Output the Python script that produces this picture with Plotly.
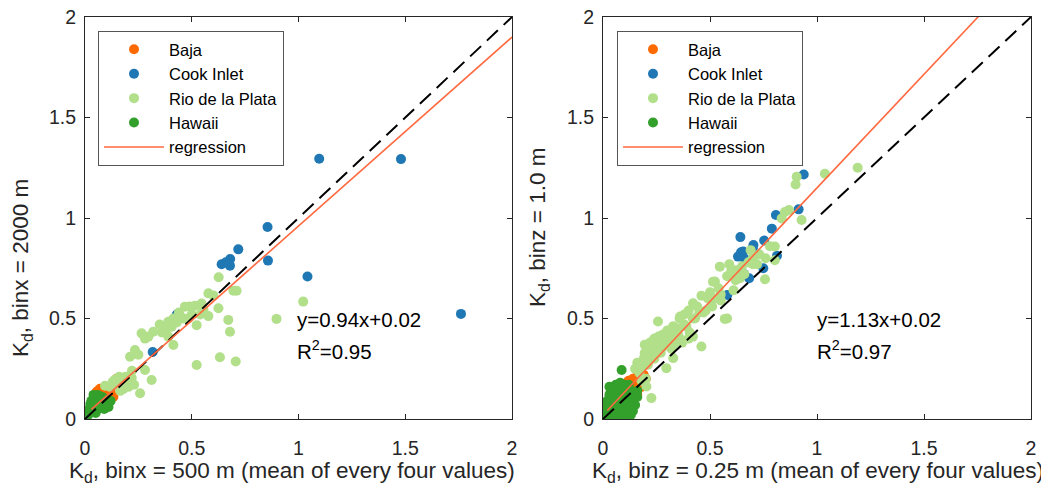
import plotly.graph_objects as go

# ---------------- Left panel: binx = 500 m (x) vs binx = 2000 m (y) ----------------
baja_x_L = [0.148, 0.135, 0.062, 0.047, 0.133, 0.070, 0.100, 0.120, 0.040, 0.085, 0.145, 0.055]
baja_y_L = [0.200, 0.170, 0.140, 0.123, 0.111, 0.150, 0.130, 0.140, 0.100, 0.120, 0.185, 0.135]

cook_x_L = [1.097, 1.480, 0.855, 0.718, 0.680, 0.640, 0.679, 0.857, 1.042, 1.761, 0.317, 0.430, 0.660]
cook_y_L = [1.295, 1.293, 0.955, 0.844, 0.796, 0.770, 0.763, 0.788, 0.709, 0.523, 0.333, 0.520, 0.780]

rio_x_L = [0.626, 0.578, 0.601, 0.695, 0.710, 0.468, 0.515, 0.546, 0.555, 0.625, 0.578, 0.671,
           0.679, 1.022, 0.897, 0.390, 0.414, 0.445, 0.460, 0.484, 0.406, 0.523, 0.383, 0.265,
           0.320, 0.281, 0.297, 0.414, 0.234, 0.211, 0.250, 0.632, 0.706, 0.523, 0.281, 0.312,
           0.258, 0.219, 0.195, 0.172, 0.148, 0.203, 0.117, 0.094, 0.180, 0.130, 0.160, 0.220,
           0.360, 0.430, 0.500, 0.540, 0.490, 0.440, 0.390, 0.350, 0.230, 0.190, 0.165, 0.140]
rio_y_L = [0.705, 0.625, 0.615, 0.638, 0.638, 0.559, 0.563, 0.575, 0.545, 0.551, 0.512, 0.493,
           0.434, 0.584, 0.498, 0.484, 0.500, 0.515, 0.500, 0.500, 0.459, 0.467, 0.450, 0.426,
           0.434, 0.400, 0.410, 0.368, 0.343, 0.310, 0.320, 0.307, 0.286, 0.269, 0.244, 0.194,
           0.128, 0.204, 0.180, 0.190, 0.170, 0.160, 0.160, 0.165, 0.150, 0.185, 0.210, 0.240,
           0.430, 0.480, 0.520, 0.520, 0.560, 0.530, 0.410, 0.470, 0.170, 0.210, 0.140, 0.195]

hawaii_x_L = [0.020, 0.030, 0.040, 0.050, 0.060, 0.070, 0.080, 0.090, 0.100, 0.110, 0.060, 0.040,
              0.020, 0.030, 0.050, 0.080, 0.100, 0.120, 0.070, 0.090, 0.015, 0.050, 0.035, 0.065,
              0.045, 0.110, 0.025, 0.085, 0.060, 0.040]
hawaii_y_L = [0.050, 0.060, 0.070, 0.080, 0.090, 0.100, 0.090, 0.080, 0.070, 0.080, 0.050, 0.040,
              0.030, 0.090, 0.110, 0.110, 0.100, 0.090, 0.060, 0.050, 0.020, 0.030, 0.050, 0.075,
              0.095, 0.060, 0.075, 0.070, 0.120, 0.120]

slope_L, intercept_L = 0.94, 0.02
reg_range_L = [0.03, 2.0]

# ---------------- Right panel: binz = 0.25 m (x) vs binz = 1.0 m (y) ----------------
baja_x_R = [0.120, 0.140, 0.160, 0.180, 0.170, 0.190, 0.150, 0.130, 0.110, 0.200, 0.142, 0.160, 0.180]
baja_y_R = [0.190, 0.200, 0.210, 0.200, 0.180, 0.220, 0.180, 0.170, 0.180, 0.200, 0.144, 0.120, 0.160]

cook_x_R = [0.938, 0.914, 0.808, 0.789, 0.642, 0.753, 0.703, 0.655, 0.631, 0.645, 0.813, 0.749,
            0.683, 0.658, 0.581, 0.660, 0.700]
cook_y_R = [1.216, 1.043, 1.015, 0.947, 0.905, 0.888, 0.866, 0.833, 0.808, 0.830, 0.812, 0.750,
            0.700, 0.722, 0.617, 0.800, 0.850]

rio_x_R = [1.190, 1.037, 0.905, 0.900, 0.869, 0.850, 0.835, 0.928, 0.803, 0.803, 0.757, 0.780,
           0.730, 0.700, 0.680, 0.650, 0.720, 0.690, 0.620, 0.600, 0.546, 0.590, 0.523, 0.580,
           0.620, 0.610, 0.550, 0.500, 0.460, 0.490, 0.520, 0.421, 0.440, 0.400, 0.380, 0.360,
           0.480, 0.450, 0.420, 0.569, 0.580, 0.257, 0.330, 0.300, 0.350, 0.380, 0.280, 0.260,
           0.310, 0.340, 0.240, 0.220, 0.250, 0.195, 0.195, 0.210, 0.230, 0.270, 0.290, 0.320,
           0.460, 0.420, 0.400, 0.370, 0.330, 0.328, 0.296, 0.226, 0.203, 0.170, 0.190, 0.160,
           0.150, 0.180, 0.210, 0.240, 0.270, 0.200, 0.180, 0.514, 0.600, 0.358, 0.327, 0.265,
           0.300, 0.350, 0.390, 0.430, 0.470, 0.510, 0.550, 0.250, 0.280, 0.320, 0.360, 0.405,
           0.230, 0.260, 0.540, 0.640, 0.660, 0.700, 0.760]
rio_y_R = [1.250, 1.220, 1.205, 1.167, 1.040, 1.030, 0.998, 0.990, 0.858, 0.790, 0.695, 0.860,
           0.820, 0.800, 0.780, 0.760, 0.770, 0.840, 0.740, 0.740, 0.758, 0.770, 0.684, 0.710,
           0.690, 0.640, 0.620, 0.630, 0.613, 0.600, 0.600, 0.576, 0.560, 0.540, 0.520, 0.510,
           0.540, 0.530, 0.500, 0.498, 0.500, 0.485, 0.460, 0.440, 0.450, 0.470, 0.420, 0.410,
           0.420, 0.430, 0.400, 0.380, 0.370, 0.369, 0.328, 0.350, 0.340, 0.390, 0.370, 0.400,
           0.361, 0.410, 0.400, 0.380, 0.370, 0.303, 0.253, 0.104, 0.162, 0.230, 0.300, 0.280,
           0.250, 0.260, 0.270, 0.300, 0.330, 0.200, 0.190, 0.683, 0.730, 0.500, 0.460, 0.410,
           0.390, 0.420, 0.460, 0.500, 0.530, 0.560, 0.590, 0.350, 0.360, 0.350, 0.400, 0.430,
           0.310, 0.330, 0.650, 0.700, 0.720, 0.770, 0.800]

hawaii_x_R = [0.010, 0.020, 0.030, 0.020, 0.040, 0.050, 0.030, 0.060, 0.070, 0.050, 0.040, 0.060,
              0.080, 0.090, 0.100, 0.110, 0.080, 0.070, 0.050, 0.060, 0.040, 0.080, 0.090, 0.100,
              0.120, 0.130, 0.110, 0.120, 0.100, 0.070, 0.090, 0.110, 0.130, 0.140, 0.150, 0.130,
              0.060, 0.030, 0.020, 0.010, 0.030, 0.150, 0.160, 0.087, 0.120, 0.080, 0.100, 0.140,
              0.120, 0.050, 0.020, 0.160, 0.090]
hawaii_y_R = [0.020, 0.010, 0.030, 0.050, 0.020, 0.040, 0.070, 0.010, 0.030, 0.070, 0.100, 0.060,
              0.050, 0.020, 0.010, 0.030, 0.080, 0.100, 0.120, 0.140, 0.150, 0.120, 0.100, 0.070,
              0.050, 0.020, 0.090, 0.120, 0.130, 0.160, 0.150, 0.150, 0.140, 0.100, 0.070, 0.080,
              0.170, 0.120, 0.090, 0.060, 0.160, 0.130, 0.140, 0.244, 0.170, 0.180, 0.170, 0.040,
              0.000, 0.000, 0.000, 0.110, 0.000]

slope_R, intercept_R = 1.13, 0.02
reg_range_R = [0.02, 2.0]

one_to_one = [0.0, 2.0]
tick_vals = [0, 0.5, 1, 1.5, 2]
tick_text = ["0", "0.5", "1", "1.5", "2"]

# ---------------- styling ----------------
C_BAJA = "#FF6A00"
C_COOK = "#1F78B4"
C_RIO = "#B2DF8A"
C_HAWAII = "#33A02C"
C_REG = "#FF6A40"
FONT = "Liberation Sans, Arial, Helvetica, sans-serif"
INK = "#262626"
MS = 10

fig = go.Figure()


def add_panel(xa, ya, legend_name, data, slope, intercept, reg_range):
    names = ["Baja", "Cook Inlet", "Rio de la Plata", "Hawaii"]
    colors = [C_BAJA, C_COOK, C_RIO, C_HAWAII]
    for (xs, ys), name, col in zip(data, names, colors):
        fig.add_trace(go.Scatter(
            x=xs, y=ys, mode="markers", name=name, xaxis=xa, yaxis=ya,
            legend=legend_name,
            marker=dict(size=MS, color=col, line=dict(width=0)),
        ))
    fig.add_trace(go.Scatter(
        x=one_to_one, y=one_to_one, mode="lines", xaxis=xa, yaxis=ya,
        showlegend=False, line=dict(color="black", width=2, dash="15px,8px"),
    ))
    rx = reg_range
    ry = [slope * v + intercept for v in rx]
    fig.add_trace(go.Scatter(
        x=rx, y=ry, mode="lines", name="regression", xaxis=xa, yaxis=ya,
        legend=legend_name, line=dict(color=C_REG, width=1.6),
    ))


add_panel("x", "y", "legend",
          [(baja_x_L, baja_y_L), (cook_x_L, cook_y_L), (rio_x_L, rio_y_L), (hawaii_x_L, hawaii_y_L)],
          slope_L, intercept_L, reg_range_L)
add_panel("x2", "y2", "legend2",
          [(baja_x_R, baja_y_R), (cook_x_R, cook_y_R), (rio_x_R, rio_y_R), (hawaii_x_R, hawaii_y_R)],
          slope_R, intercept_R, reg_range_R)

# page body adds an 8 px margin; layout positions below are window pixels
OFF = 8
W, H = 1049 - OFF, 490 - OFF


def px(p):
    return (p - OFF) / W


def py(p):
    return (H - (p - OFF)) / H


yd = [py(419), py(17)]
axis_common = dict(
    range=[0, 2], tickvals=tick_vals, ticktext=tick_text, showgrid=False, zeroline=False,
    showline=True, linecolor=INK, linewidth=1, mirror="ticks", ticks="inside", ticklen=5,
    tickcolor=INK, tickwidth=1, tickfont=dict(family=FONT, size=19.5, color=INK),
    automargin=False, ticklabeloverflow="allow",
)

leg_common = dict(xanchor="left", yanchor="top", bgcolor="white", bordercolor="#555555",
                  borderwidth=1, font=dict(family=FONT, size=16.5, color="black"),
                  itemwidth=60, tracegroupgap=0, entrywidth=118, entrywidthmode="pixels")

fig.update_layout(
    width=W, height=H, autosize=False,
    paper_bgcolor="white", plot_bgcolor="white",
    margin=dict(l=0, r=0, t=0, b=0, autoexpand=False),
    font=dict(family=FONT, color=INK),
    xaxis=dict(domain=[px(85), px(512)], anchor="y", ticklabelstandoff=12, **axis_common),
    yaxis=dict(domain=yd, anchor="x", ticklabelstandoff=4, **axis_common),
    xaxis2=dict(domain=[px(603), px(1031)], anchor="y2", ticklabelstandoff=12, **axis_common),
    yaxis2=dict(domain=yd, anchor="x2", ticklabelstandoff=4, **axis_common),
    legend=dict(x=px(98), y=py(31), **leg_common),
    legend2=dict(x=px(617), y=py(31), **leg_common),
    showlegend=True,
)

ann_font = dict(family=FONT, size=20.5, color="black")
title_font = dict(family=FONT, size=22.5, color=INK)
annotations = [
    dict(text="y=0.94x+0.02", x=0.985, y=0.493, xref="x", yref="y", xanchor="left", yanchor="middle",
         showarrow=False, font=ann_font),
    dict(text="R<sup>2</sup>=0.95", x=0.985, y=0.345, xref="x", yref="y", xanchor="left", yanchor="middle",
         showarrow=False, font=ann_font),
    dict(text="y=1.13x+0.02", x=0.99, y=0.493, xref="x2", yref="y2", xanchor="left", yanchor="middle",
         showarrow=False, font=ann_font),
    dict(text="R<sup>2</sup>=0.97", x=0.99, y=0.345, xref="x2", yref="y2", xanchor="left", yanchor="middle",
         showarrow=False, font=ann_font),
    dict(text="K<sub>d</sub>, binx = 500 m (mean of every four values)", x=px(292), y=py(472),
         xref="paper", yref="paper", xanchor="center", yanchor="middle", showarrow=False, font=title_font),
    dict(text="K<sub>d</sub>, binz = 0.25 m (mean of every four values)", x=px(818), y=py(472),
         xref="paper", yref="paper", xanchor="center", yanchor="middle", showarrow=False, font=title_font),
    dict(text="K<sub>d</sub>, binx = 2000 m", x=px(22), y=py(268), textangle=-90,
         xref="paper", yref="paper", xanchor="center", yanchor="middle", showarrow=False, font=title_font),
    dict(text="K<sub>d</sub>, binz = 1.0 m", x=px(539), y=py(228), textangle=-90,
         xref="paper", yref="paper", xanchor="center", yanchor="middle", showarrow=False, font=title_font),
]
fig.update_layout(annotations=annotations)

fig.write_html("out.html")
